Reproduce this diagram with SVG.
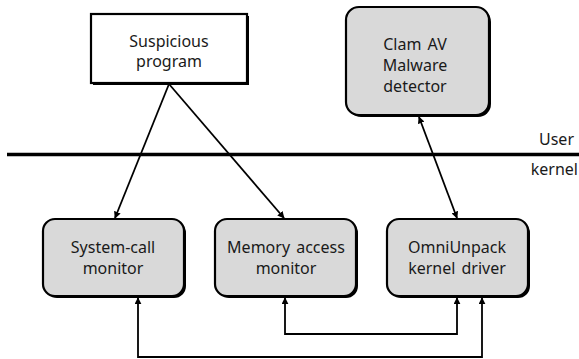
<svg xmlns="http://www.w3.org/2000/svg" width="579" height="359" viewBox="0 0 579 359">
  <defs>
    <marker id="arrow" viewBox="0 0 10 10" refX="9" refY="5" markerWidth="7" markerHeight="7" markerUnits="userSpaceOnUse" orient="auto-start-reverse">
      <path d="M0,0 L10,5 L0,10 z" fill="#000"/>
    </marker>
  </defs>
  <style>
    .shadow { fill: #000; }
    .box { stroke: #000; stroke-width: 2.2; }
    .plain { fill: #fff; }
    .grey { fill: #d9d9d9; }
    .label { font-family: "Noto Sans", "Open Sans", sans-serif; font-size: 16px; fill: #1a1a1a; text-anchor: middle; word-spacing: 2px; }
    .side { font-family: "Noto Sans", "Open Sans", sans-serif; font-size: 16px; fill: #1a1a1a; text-anchor: end; }
    .wire { fill: none; stroke: #000; stroke-width: 1.8; }
  </style>
  <rect width="579" height="359" fill="#fff"/>

  <!-- user / kernel boundary -->
  <line x1="7" y1="154.5" x2="579" y2="154.5" stroke="#000" stroke-width="3.5"/>
  <text class="side" x="574" y="145">User</text>
  <text class="side" x="578" y="175">kernel</text>

  <g id="suspicious-program">
    <rect class="shadow" x="93" y="16" width="156" height="69"/>
    <rect class="box plain" x="91" y="14" width="156" height="69"/>
    <text class="label" x="169" y="47">Suspicious</text>
    <text class="label" x="169" y="67">program</text>
  </g>

  <g id="clamav-detector">
    <rect class="shadow" x="348" y="9" width="143" height="108" rx="13"/>
    <rect class="box grey" x="346" y="7" width="143" height="108" rx="13"/>
    <text class="label" x="415" y="50">Clam AV</text>
    <text class="label" x="415" y="71">Malware</text>
    <text class="label" x="415" y="92">detector</text>
  </g>

  <g id="syscall-monitor">
    <rect class="shadow" x="45" y="221" width="141" height="77" rx="12"/>
    <rect class="box grey" x="43" y="219" width="141" height="77" rx="12"/>
    <text class="label" x="113" y="253">System-call</text>
    <text class="label" x="113" y="274">monitor</text>
  </g>

  <g id="memory-monitor">
    <rect class="shadow" x="217" y="221" width="141" height="77" rx="12"/>
    <rect class="box grey" x="215" y="219" width="141" height="77" rx="12"/>
    <text class="label" x="286" y="253">Memory access</text>
    <text class="label" x="286" y="274">monitor</text>
  </g>

  <g id="omniunpack-driver">
    <rect class="shadow" x="389" y="221" width="141" height="77" rx="12"/>
    <rect class="box grey" x="387" y="219" width="141" height="77" rx="12"/>
    <text class="label" x="457" y="253">OmniUnpack</text>
    <text class="label" x="457" y="274">kernel driver</text>
  </g>

  <g id="connectors">
    <line class="wire" x1="169" y1="84" x2="115" y2="218" marker-end="url(#arrow)"/>
    <line class="wire" x1="169" y1="84" x2="284" y2="218" marker-end="url(#arrow)"/>
    <line class="wire" x1="419" y1="117" x2="457" y2="218" marker-start="url(#arrow)" marker-end="url(#arrow)"/>
    <polyline class="wire" points="285,298 285,334 457,334 457,298" marker-start="url(#arrow)" marker-end="url(#arrow)"/>
    <polyline class="wire" points="138,298 138,357 482,357 482,298" marker-start="url(#arrow)" marker-end="url(#arrow)"/>
  </g>
</svg>
